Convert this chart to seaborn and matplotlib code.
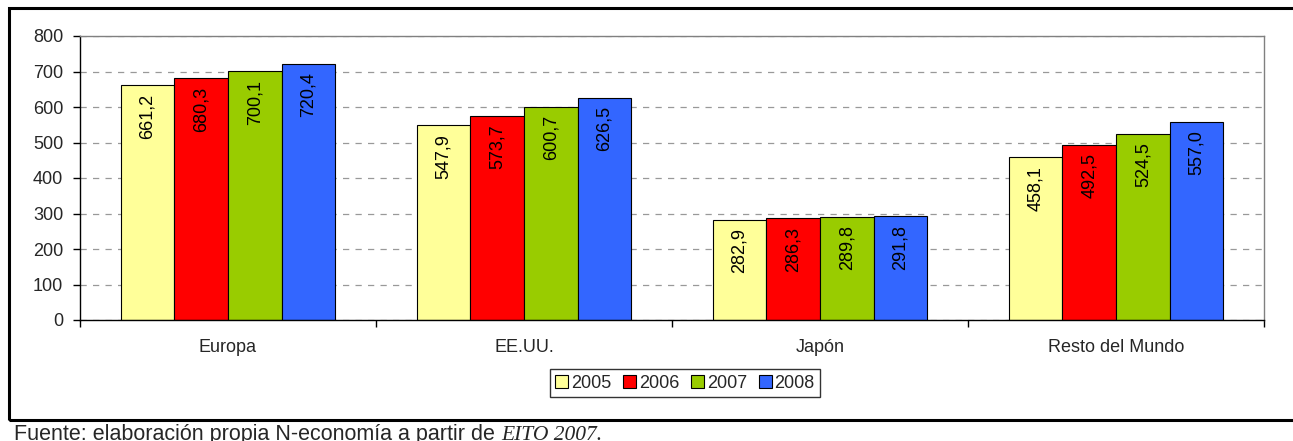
import numpy as np
import pandas as pd
import matplotlib
matplotlib.use("Agg")
import matplotlib.pyplot as plt
from matplotlib.patches import Rectangle
from matplotlib.ticker import FixedLocator, NullFormatter
import seaborn as sns

regions = ["Europa", "EE.UU.", "Japón", "Resto del Mundo"]
years = ["2005", "2006", "2007", "2008"]
v2005 = [661.2, 547.9, 282.9, 458.1]
v2006 = [680.3, 573.7, 286.3, 492.5]
v2007 = [700.1, 600.7, 289.8, 524.5]
v2008 = [720.4, 626.5, 291.8, 557.0]
colors = ["#FFFF99", "#FF0000", "#99CC00", "#3366FF"]

df = pd.DataFrame({
    "region": regions * 4,
    "year": np.repeat(years, 4),
    "value": v2005 + v2006 + v2007 + v2008,
})

sns.set_theme(style="white")
plt.rcParams['font.family'] = ['Liberation Sans', 'DejaVu Sans']

fig = plt.figure(figsize=(12.93, 4.41), dpi=100)
ax = fig.add_axes([80 / 1293, 1 - 320 / 441, (1264 - 80) / 1293, (320 - 36) / 441])

sns.barplot(data=df, x="region", y="value", hue="year", palette=colors,
            width=0.726, gap=0, edgecolor="black", linewidth=0.8,
            saturation=1, ax=ax, legend=True)

ax.set_xlim(-0.5, 3.5)
ax.set_ylim(0, 800)
ax.set_yticks(range(0, 801, 100))
ax.yaxis.grid(True, linestyle=(0, (5, 5)), color="#999999", linewidth=0.9)
ax.set_axisbelow(True)
ax.set_xlabel("")
ax.set_ylabel("")

for s in ["left", "bottom"]:
    ax.spines[s].set_color("black")
    ax.spines[s].set_linewidth(1.0)
for s in ["top", "right"]:
    ax.spines[s].set_color("#808080")
    ax.spines[s].set_linewidth(1.0)

ax.tick_params(axis="y", which="major", direction="out", length=5, width=1,
               color="black", pad=7, labelsize=13, left=True)
ax.tick_params(axis="x", which="major", length=0, pad=14, labelsize=13)
ax.xaxis.set_minor_locator(FixedLocator([-0.5, 0.5, 1.5, 2.5, 3.5]))
ax.xaxis.set_minor_formatter(NullFormatter())
ax.tick_params(axis="x", which="minor", direction="out", length=5, width=1,
               color="black", bottom=True)

# value labels inside bars
for cont in ax.containers:
    for bar in cont:
        h = bar.get_height()
        ax.annotate(f"{h:.1f}".replace(".", ","),
                    xy=(bar.get_x() + bar.get_width() / 2, h),
                    xytext=(0, -6), textcoords="offset points",
                    rotation=90, ha="center", va="top", fontsize=13, color="black")

leg = ax.legend(loc="center", bbox_to_anchor=(685 / 1293, 1 - 383 / 441),
                bbox_transform=fig.transFigure, ncol=4, fontsize=13,
                frameon=True, fancybox=False, edgecolor="black",
                handlelength=0.72, handleheight=0.72, handletextpad=0.15,
                columnspacing=0.65, borderpad=0.3, borderaxespad=0)
leg.get_frame().set_linewidth(1.0)
for h in leg.legend_handles:
    h.set_edgecolor("black")
    h.set_linewidth(0.8)

# outer chart frame
fig.add_artist(Rectangle((9 / 1293, 1 - 420 / 441), 1.2, (420 - 8) / 441,
                         transform=fig.transFigure, fill=False,
                         edgecolor="black", linewidth=2.2, clip_on=False))

t1 = fig.text(14 / 1293, 1 - 440 / 441, "Fuente: elaboración propia N-economía a partir de ",
              fontsize=15.5, va="baseline", ha="left")
fig.canvas.draw()
ax.annotate("EITO 2007.", xy=(1, 0), xycoords=t1, va="bottom", ha="left",
            fontsize=15.5, fontstyle="italic", family="Liberation Serif")

fig.savefig("out.png", dpi=100)
